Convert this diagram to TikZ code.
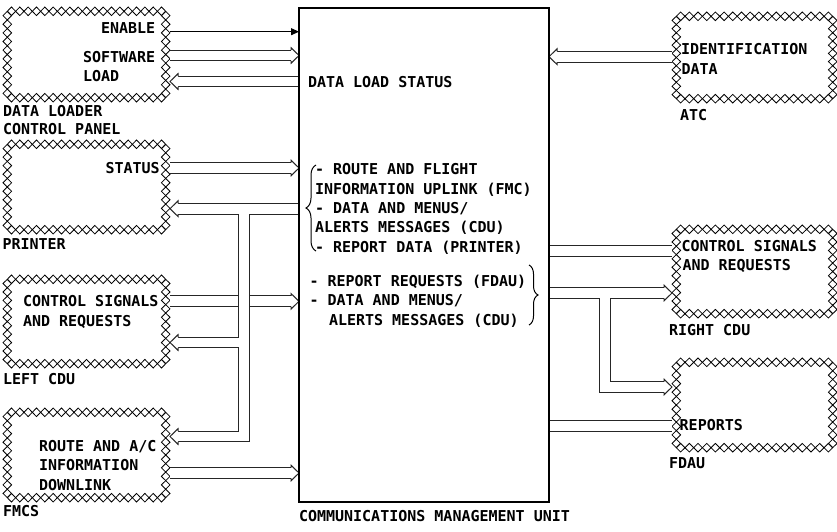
\documentclass[tikz,border=0pt]{standalone}
\usepackage{fontspec}
\setmainfont{DejaVu Sans Mono}
\usetikzlibrary{arrows.meta,decorations.pathreplacing}

\newcommand{\hatchbox}[5]{%
  \node[hatchnode, minimum width={#4-#2}, minimum height={#5-#3}] (#1) at ({(#2+#4)/2},{(#3+#5)/2}) {};
  \pgfmathsetmacro\hxa{#2+4.3}%
  \pgfmathsetmacro\hxb{#4-4.3}%
  \pgfmathsetmacro\hya{#3+4.3}%
  \pgfmathsetmacro\hyb{#5-4.3}%
  \pgfmathtruncatemacro\hnx{round((\hxb-\hxa)/8.5)}%
  \pgfmathtruncatemacro\hny{round((\hyb-\hya)/8.5)}%
  \pgfmathsetmacro\hdx{(\hxb-\hxa)/\hnx}%
  \pgfmathsetmacro\hdy{(\hyb-\hya)/\hny}%
  \foreach \hi in {1,...,\hnx}{%
    \pgfmathsetmacro\hx{\hxa+(\hi-1)*\hdx}%
    \draw[hatch] (\hx,\hya) -- ++(\hdx/2,-4.3) -- ++(\hdx/2,4.3) -- ++(-\hdx/2,4.3) -- cycle;
    \draw[hatch] (\hx,\hyb) -- ++(\hdx/2,-4.3) -- ++(\hdx/2,4.3) -- ++(-\hdx/2,4.3) -- cycle;
  }%
  \foreach \hj in {1,...,\hny}{%
    \pgfmathsetmacro\hy{\hya+(\hj-1)*\hdy}%
    \draw[hatch] (\hxa,\hy) -- ++(-4.3,\hdy/2) -- ++(4.3,\hdy/2) -- ++(4.3,-\hdy/2) -- cycle;
    \draw[hatch] (\hxb,\hy) -- ++(-4.3,\hdy/2) -- ++(4.3,\hdy/2) -- ++(4.3,-\hdy/2) -- cycle;
  }%
}

\begin{document}
\begin{tikzpicture}[x=1pt,y=-1pt,
  hatchnode/.style={rectangle, inner sep=0pt, outer sep=0pt, draw=none},
  hatch/.style={draw=black, line width=0.8pt},
  txt/.style={font=\bfseries\fontsize{15}{18}\selectfont, anchor=base west, inner sep=0pt, outer sep=0pt, text=black},
  shout/.style={draw=black!85, line width=11.7pt, line join=miter},
  shin/.style={draw=white, line width=9.7pt, line join=miter},
  hd/.style={shorten >=8pt},
  headline/.style={draw=black!85, line width=1pt, fill=white, line join=miter},
  rhead/.pic={\path[headline] (-8,-5.35) -- (-8,-7.8) -- (0,0) -- (-8,7.8) -- (-8,5.35);},
  lhead/.pic={\path[headline] (8,-5.35) -- (8,-7.8) -- (0,0) -- (8,7.8) -- (8,5.35);},
  curly/.style={decorate, decoration={brace, amplitude=#1}, draw=black, line width=1pt},
  cmuline/.style={draw=black, line width=2pt},
  thinarr/.style={draw=black, line width=1pt, -{Triangle[length=8pt,width=7pt]}},
]
\useasboundingbox (0,0) rectangle (837,532);

% central unit (border drawn last)
\node[hatchnode, minimum width=250, minimum height=494] (cmu) at (424,255) {};

% hatched boxes
\hatchbox{dlcp}{3}{7}{170}{102}
\hatchbox{prn}{3}{140}{170}{234}
\hatchbox{lcdu}{3}{275}{170}{368}
\hatchbox{fmcs}{3}{408}{170}{502}
\hatchbox{atc}{672}{12}{837}{103}
\hatchbox{rcdu}{672}{225}{837}{318}
\hatchbox{fdau}{672}{358}{837}{452}

% texts
\node[txt] (t1) at (101,34) {ENABLE};
\node[txt] (t2) at (83,62.5) {SOFTWARE};
\node[txt] (t3) at (83,82) {LOAD};
\node[txt] (t4) at (3,116.5) {DATA LOADER};
\node[txt] (t5) at (3,135) {CONTROL PANEL};
\node[txt] (t6) at (105.5,173) {STATUS};
\node[txt] (t7) at (2.5,249) {PRINTER};
\node[txt] (t8) at (23,306.7) {CONTROL SIGNALS};
\node[txt] (t9) at (23,326) {AND REQUESTS};
\node[txt] (t10) at (3,384) {LEFT CDU};
\node[txt] (t11) at (39,451.7) {ROUTE AND A/C};
\node[txt] (t12) at (39,470.5) {INFORMATION};
\node[txt] (t13) at (39,490) {DOWNLINK};
\node[txt] (t14) at (3,516.7) {FMCS};
\node[txt] (t15) at (308,87.5) {DATA LOAD STATUS};
\node[txt] (t16) at (315,174.3) {- ROUTE AND FLIGHT};
\node[txt] (t17) at (315,194) {INFORMATION UPLINK (FMC)};
\node[txt] (t18) at (315,213.3) {- DATA AND MENUS/};
\node[txt] (t19) at (315,232.7) {ALERTS MESSAGES (CDU)};
\node[txt] (t20) at (315,252.3) {- REPORT DATA (PRINTER)};
\node[txt] (t21) at (309.5,286) {- REPORT REQUESTS (FDAU)};
\node[txt] (t22) at (309.5,305.5) {- DATA AND MENUS/};
\node[txt] (t23) at (329,325) {ALERTS MESSAGES (CDU)};
\node[txt] (t24) at (299,521.7) {COMMUNICATIONS MANAGEMENT UNIT};
\node[txt] (t25) at (681,55) {IDENTIFICATION};
\node[txt] (t26) at (681.5,75) {DATA};
\node[txt] (t27) at (680,121) {ATC};
\node[txt] (t28) at (681.5,251) {CONTROL SIGNALS};
\node[txt] (t29) at (682.5,270) {AND REQUESTS};
\node[txt] (t30) at (669,335) {RIGHT CDU};
\node[txt] (t31) at (679.7,430) {REPORTS};
\node[txt] (t32) at (669,468.3) {FDAU};

% helper coordinates on the trunks
\coordinate (ptop) at (244.2,208.7);
\coordinate (pmid) at (244.2,342.5);
\coordinate (rtop) at (605.3,293);

% single-line arrow
\draw[thinarr] (dlcp.east |- 0,31.7) -- (cmu.west |- 0,31.7);

% hollow arrows: group A, outer pass
\foreach \p in {shout, shin}{
  \draw[\p, hd] (dlcp.east |- 0,55.5) -- (cmu.west |- 0,55.5);
  \draw[\p, hd] (cmu.west |- 0,81.5) -- (dlcp.east |- 0,81.5);
  \draw[\p, hd] (prn.east |- 0,168) -- (cmu.west |- 0,168);
  \draw[\p, hd] (lcdu.east |- 0,301.3) -- (cmu.west |- 0,301.3);
  \draw[\p, hd] (fmcs.east |- 0,473) -- (cmu.west |- 0,473);
  \draw[\p, hd] (atc.west |- 0,56.7) -- (cmu.east |- 0,56.7);
  \draw[\p] (cmu.east |- 0,251.3) -- (rcdu.west |- 0,251.3);
  \draw[\p] (cmu.east |- 0,426) -- (fdau.west |- 0,426);
  \draw[\p, hd] (cmu.east |- 0,293) -- (rcdu.west |- 0,293);
  \draw[\p, hd] (rtop) |- (fdau.west |- 0,387);
}
% group B (printer / CDU / FMCS trunk), drawn over group A
\foreach \p in {shout, shin}{
  \draw[\p, hd] (cmu.west |- ptop) -- (prn.east |- ptop);
  \draw[\p, hd] (ptop) |- (fmcs.east |- 0,436.5);
  \draw[\p, hd] (pmid) -- (lcdu.east |- pmid);
}

% arrow heads
\pic at (cmu.west |- 0,55.5) {rhead};
\pic at (dlcp.east |- 0,81.5) {lhead};
\pic at (cmu.west |- 0,168) {rhead};
\pic at (cmu.west |- 0,301.3) {rhead};
\pic at (cmu.west |- 0,473) {rhead};
\pic at (cmu.east |- 0,56.7) {lhead};
\pic at (rcdu.west |- 0,293) {rhead};
\pic at (fdau.west |- 0,387) {rhead};
\pic at (prn.east |- ptop) {lhead};
\pic at (lcdu.east |- pmid) {lhead};
\pic at (fmcs.east |- 0,436.5) {lhead};

% braces
\draw[curly=10] (316,251) -- (316,165);
\draw[curly=9] (529,265) -- (529,325);

% central unit border
\draw[cmuline] (cmu.north west) rectangle (cmu.south east);
\end{tikzpicture}
\end{document}
